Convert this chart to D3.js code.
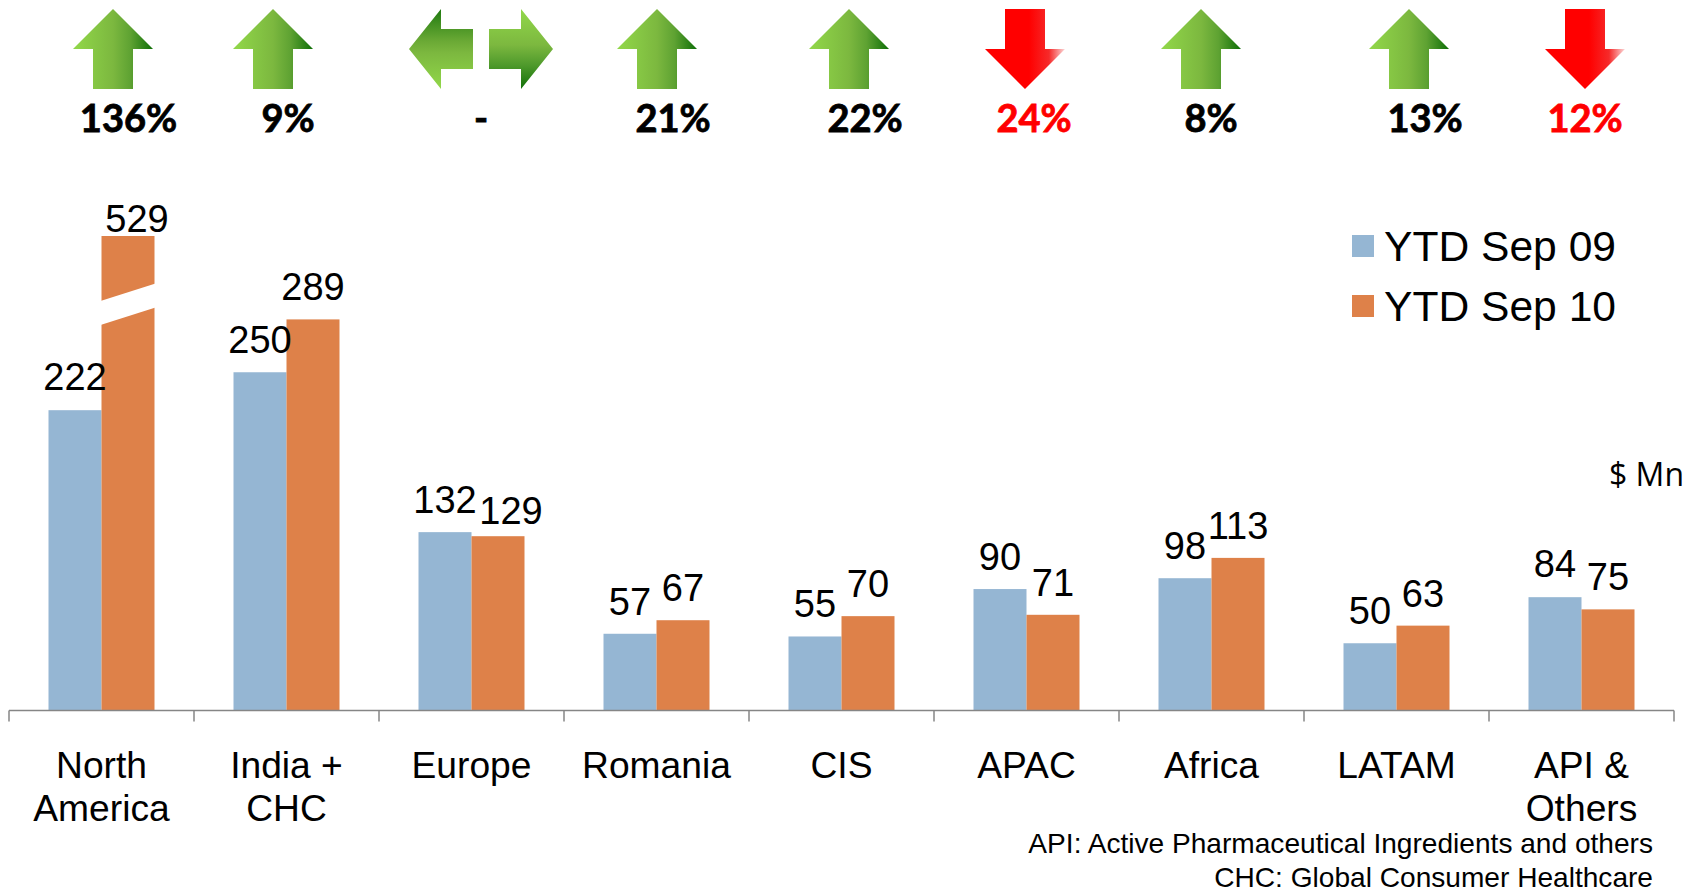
<!DOCTYPE html>
<html>
<head>
<meta charset="utf-8">
<script src="https://cdn.jsdelivr.net/npm/d3@7"></script>
<style>
  html, body { margin: 0; padding: 0; background: #fff; }
  text { font-family: "Liberation Sans", Arial, sans-serif; fill: #000; }
</style>
</head>
<body>
<div id="chart"></div>
<script>
const regions = ["North America", "India + CHC", "Europe", "Romania", "CIS", "APAC", "Africa", "LATAM", "API & Others"];
const regionLines = [["North", "America"], ["India +", "CHC"], ["Europe"], ["Romania"], ["CIS"], ["APAC"], ["Africa"], ["LATAM"], ["API &", "Others"]];
const ytd09 = [222, 250, 132, 57, 55, 90, 98, 50, 84];
const ytd10 = [529, 289, 129, 67, 70, 71, 113, 63, 75];
const seriesNames = ["YTD Sep 09", "YTD Sep 10"];
const changes = ["136%", "9%", "-", "21%", "22%", "24%", "8%", "13%", "12%"];
const directions = ["up", "up", "flat", "up", "up", "down", "up", "up", "down"];
const notes = ["API: Active Pharmaceutical Ingredients and others", "CHC: Global Consumer Healthcare"];

const width = 1700, height = 890;
const axisY = 710.5;

const svg = d3.select("#chart").append("svg")
    .attr("width", width)
    .attr("height", height)
    .style("display", "block");

const defs = svg.append("defs");

// gradients for the arrows
function gradient(id, stops, vertical) {
    const g = defs.append("linearGradient").attr("id", id)
        .attr("x1", 0).attr("y1", 0)
        .attr("x2", vertical ? 0 : 1).attr("y2", vertical ? 1 : 0);
    stops.forEach(s => g.append("stop").attr("offset", s[0]).attr("stop-color", s[1]));
}
gradient("gUp", [[0, "#92d84a"], [0.5, "#7cb83f"], [0.72, "#5ea232"], [1, "#0f6f08"]]);
gradient("gDown", [[0, "#ff0000"], [0.55, "#ff0000"], [0.8, "#f62a2a"], [1, "#fbd8d8"]]);
gradient("gLeft", [[0, "#1f7a10"], [0.4, "#6aa935"], [0.55, "#7cb83f"], [1, "#92d84a"]], true);
gradient("gRight", [[0, "#92d84a"], [0.45, "#7cb83f"], [0.7, "#4f9a2c"], [1, "#117008"]], true);

// band scale for regions, ticks fall on band edges
const x = d3.scaleBand()
    .domain(regions)
    .range([9, 1674]);

// the axis is broken above 300, so the scale has two pieces
const y = d3.scaleLinear()
    .domain([0, 300, 529])
    .range([711, 304.5, 236]);

const colors = d3.scaleOrdinal().domain(seriesNames).range(["#95b6d3", "#de8149"]);

const barW = 53;
const barX = (r, s) => x(r) + x.bandwidth() / 2 + (s === 0 ? -barW : 0);

const rows = regions.flatMap((r, i) => [
    { region: r, s: 0, v: ytd09[i] },
    { region: r, s: 1, v: ytd10[i] }
]);

// bars
svg.selectAll(".bar")
    .data(rows)
    .join("rect")
    .attr("class", "bar")
    .attr("x", d => barX(d.region, d.s))
    .attr("width", barW)
    .attr("y", d => y(d.v))
    .attr("height", d => y(0) - y(d.v))
    .attr("fill", d => colors(seriesNames[d.s]));

// white slash through the broken bar
const bx = barX(regions[0], 1);
svg.append("polygon")
    .attr("points", [
        [bx - 1, 301], [bx + barW + 1, 283.5],
        [bx + barW + 1, 307.5], [bx - 1, 325]
    ].join(" "))
    .attr("fill", "#fff");

// axis
const axis = svg.append("g").attr("transform", `translate(0,${axisY})`);
axis.append("line")
    .attr("x1", x.range()[0]).attr("x2", x.range()[1])
    .attr("stroke", "#868686").attr("stroke-width", 1.5);
axis.selectAll(".tick")
    .data(regions.map(r => x(r)).concat(x.range()[1]))
    .join("line")
    .attr("class", "tick")
    .attr("x1", d => d).attr("x2", d => d)
    .attr("y1", 0).attr("y2", 11)
    .attr("stroke", "#868686").attr("stroke-width", 1.5);

// category labels
const cat = svg.selectAll(".cat")
    .data(regions)
    .join("text")
    .attr("class", "cat")
    .attr("text-anchor", "middle")
    .style("font-size", "37.2px");
cat.selectAll("tspan")
    .data((d, i) => regionLines[i])
    .join("tspan")
    .attr("x", function () { return x(d3.select(this.parentNode).datum()) + x.bandwidth() / 2; })
    .attr("y", (d, i) => 778 + i * 43)
    .text(d => d);

// value labels, a few are nudged off the bar like in the slide
const nudge = { "0-1": [9, 15], "2-1": [13, 7], "0-0": [0, -1], "8-0": [0, -1] };
svg.selectAll(".val")
    .data(rows)
    .join("text")
    .attr("class", "val")
    .attr("text-anchor", "middle")
    .style("font-size", "38px")
    .attr("x", d => {
        const n = nudge[regions.indexOf(d.region) + "-" + d.s];
        return barX(d.region, d.s) + barW / 2 + (n ? n[0] : 0);
    })
    .attr("y", d => {
        const n = nudge[regions.indexOf(d.region) + "-" + d.s];
        return y(d.v) - 19 + (n ? n[1] : 0);
    })
    .text(d => d.v);

// arrows along the top
const arrowX = [113, 273, 481, 657, 849, 1025, 1201, 1409, 1585];
const changeX = [128.5, 288, 481, 673, 865, 1034, 1211, 1425, 1585];

const arrowLine = d3.line();
const top_ = 9, shoulder = 49, bottom = 89;

function upArrow(c) {
    return arrowLine([[c, top_], [c + 40, shoulder], [c + 20, shoulder], [c + 20, bottom],
        [c - 20, bottom], [c - 20, shoulder], [c - 40, shoulder]]) + "Z";
}
function downArrow(c) {
    return arrowLine([[c, bottom], [c + 40, shoulder], [c + 20, shoulder], [c + 20, top_],
        [c - 20, top_], [c - 20, shoulder], [c - 40, shoulder]]) + "Z";
}
function sideArrow(tip, base, end) {
    return arrowLine([[tip, 49], [base, top_], [base, 29], [end, 29], [end, 69], [base, 69], [base, bottom]]) + "Z";
}

directions.forEach((dir, i) => {
    const c = arrowX[i];
    if (dir === "up") {
        svg.append("path").attr("d", upArrow(c)).attr("fill", "url(#gUp)");
    } else if (dir === "down") {
        svg.append("path").attr("d", downArrow(c)).attr("fill", "url(#gDown)");
    } else {
        svg.append("path").attr("d", sideArrow(c - 72, c - 40, c - 8)).attr("fill", "url(#gLeft)");
        svg.append("path").attr("d", sideArrow(c + 72, c + 40, c + 8)).attr("fill", "url(#gRight)");
    }
});

svg.selectAll(".chg")
    .data(changes)
    .join("text")
    .attr("class", "chg")
    .attr("text-anchor", "middle")
    .attr("x", (d, i) => changeX[i])
    .attr("y", 132)
    .style("font-family", "Lato, sans-serif")
    .style("font-weight", 700)
    .style("font-size", "38px")
    .style("fill", (d, i) => directions[i] === "down" ? "#ff0000" : "#000")
    .style("stroke", (d, i) => directions[i] === "down" ? "#ff0000" : "#000")
    .style("stroke-width", 0.8)
    .text(d => d);

// legend
const legend = svg.selectAll(".legend")
    .data(seriesNames)
    .join("g")
    .attr("class", "legend")
    .attr("transform", (d, i) => `translate(1352,${235 + i * 60})`);
legend.append("rect")
    .attr("width", 22).attr("height", 22)
    .attr("fill", d => colors(d));
legend.append("text")
    .attr("x", 32).attr("y", 26)
    .style("font-size", "42.6px")
    .text(d => d);

// unit
svg.append("text")
    .attr("x", 1684).attr("y", 486)
    .attr("text-anchor", "end")
    .style("font-family", "'Open Sans', sans-serif")
    .style("font-size", "32px")
    .text("$ Mn");

// footnotes
svg.selectAll(".note")
    .data(notes)
    .join("text")
    .attr("class", "note")
    .attr("x", 1653)
    .attr("y", (d, i) => 853 + i * 33.5)
    .attr("text-anchor", "end")
    .style("font-size", "28.1px")
    .text(d => d);
</script>
</body>
</html>
